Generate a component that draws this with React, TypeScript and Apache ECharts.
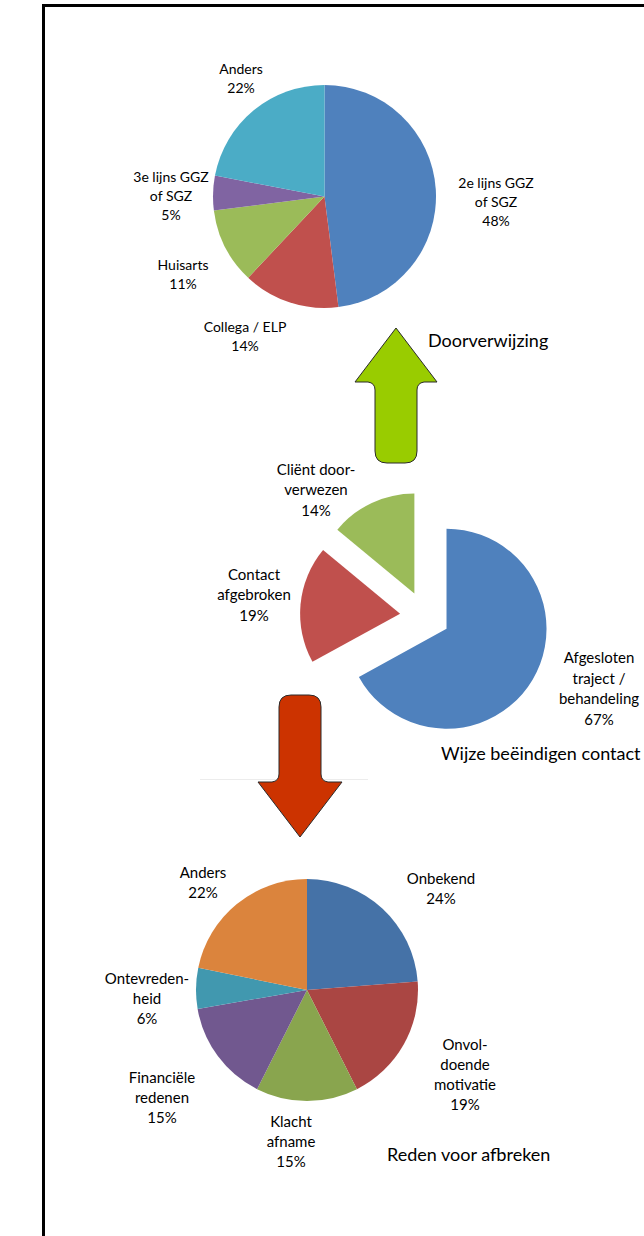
import React, { useEffect, useRef } from 'react';
import * as echarts from 'echarts';

// ---- Data ----
const referralCategories = ['2e lijns GGZ\nof SGZ', 'Collega / ELP', 'Huisarts', '3e lijns GGZ\nof SGZ', 'Anders'];
const referralValues = [48, 14, 11, 5, 22];
const referralColors = ['#4F81BD', '#C0504D', '#9BBB59', '#8064A2', '#4BACC6'];

const endCategories = ['Afgesloten\ntraject /\nbehandeling', 'Contact\nafgebroken', 'Cliënt door-\nverwezen'];
const endValues = [67, 19, 14];
const endColors = ['#4F81BD', '#C0504D', '#9BBB59'];

const reasonCategories = ['Onbekend', 'Onvol-\ndoende\nmotivatie', 'Klacht\nafname', 'Financiële\nredenen', 'Ontevreden-\nheid', 'Anders'];
const reasonValues = [24, 19, 15, 15, 6, 22];
const reasonColors = ['#4572A7', '#AA4643', '#89A54E', '#71588F', '#4198AF', '#DB843D'];

const chartTitles = ['Doorverwijzing', 'Wijze beëindigen contact', 'Reden voor afbreken'];

// ---- Layout (label anchor points, manually placed like in the original) ----
const referralLabelPos = [[496, 201], [245, 336], [183, 274], [171, 195], [241, 78]];
const endLabelPos = [[599, 688], [254, 594], [316, 489]];
const reasonLabelPos = [[441, 888], [465, 1074], [291, 1141], [162, 1097], [147, 998], [203, 882]];

const ARROW_UP = 'M0,0 L41,54 L28,54 Q21,55 21,62 L21,123 Q21,135 9,135 L-9,135 Q-21,135 -21,123 L-21,62 Q-21,55 -28,54 L-41,54 Z';
const ARROW_DOWN = 'M0,0 L-42,-55 L-28,-55 Q-21,-56 -21,-63 L-21,-130 Q-21,-142 -9,-142 L9,-142 Q21,-142 21,-130 L21,-63 Q21,-56 28,-55 L42,-55 Z';

let registered = false;
function registerShapes() {
  if (registered) return;
  echarts.graphic.registerShape('arrowUp', echarts.graphic.extendPath(ARROW_UP, {}));
  echarts.graphic.registerShape('arrowDown', echarts.graphic.extendPath(ARROW_DOWN, {}));
  registered = true;
}

function baseSeries(pos: number[][], center: number[], radius: number, fontSize: number, lineHeight: number) {
  return {
    type: 'pie',
    center,
    radius,
    startAngle: 90,
    clockwise: true,
    silent: true,
    avoidLabelOverlap: false,
    selectedMode: false,
    emphasis: { disabled: true },
    itemStyle: { borderWidth: 0 },
    label: {
      show: true,
      position: 'outside',
      formatter: (p: any) => `${p.name}\n${p.value}%`,
      fontFamily: 'Lato',
      fontSize,
      lineHeight,
      color: '#000',
    },
    labelLine: { show: false },
    labelLayout: (params: any) => {
      const p = pos[params.dataIndex];
      return { x: p[0], y: p[1], align: 'center', verticalAlign: 'middle' };
    },
  };
}

function pieSeries(
  cats: string[], vals: number[], colors: string[], pos: number[][],
  center: number[], radius: number, fontSize: number, lineHeight: number
) {
  return {
    ...baseSeries(pos, center, radius, fontSize, lineHeight),
    data: cats.map((name, i) => ({ name, value: vals[i], itemStyle: { color: colors[i] } })),
  };
}

// Exploded pie: each slice drawn by its own series, shifted along its mid-angle.
function explodedSeries(
  cats: string[], vals: number[], colors: string[], pos: number[][],
  center: number[], radius: number, fontSize: number, lineHeight: number, explode: number
) {
  const total = vals.reduce((a, b) => a + b, 0);
  let cum = 0;
  return vals.map((v, k) => {
    const mid = ((cum + v / 2) / total) * Math.PI * 2;
    cum += v;
    const c = [center[0] + explode * Math.sin(mid), center[1] - explode * Math.cos(mid)];
    return {
      ...baseSeries(pos, c, radius, fontSize, lineHeight),
      data: cats.map((name, i) => ({
        name,
        value: vals[i],
        itemStyle: { color: i === k ? colors[i] : 'rgba(0,0,0,0)' },
        label: { show: i === k },
      })),
    };
  });
}

export default function App() {
  const ref = useRef<HTMLDivElement>(null);
  useEffect(() => {
    if (!ref.current) return;
    registerShapes();
    const chart = echarts.init(ref.current, undefined, { renderer: 'svg' });
    const titleStyle = { fontFamily: 'Lato', fontSize: 18, fill: '#000', verticalAlign: 'middle' };
    chart.setOption({
      animation: false,
      backgroundColor: '#fff',
      graphic: [
        {
          type: 'rect', shape: { x: 43.5, y: 5.5, width: 800, height: 1400 },
          style: { fill: 'none', stroke: '#000', lineWidth: 3 }, z: 0,
        },
        {
          type: 'line', shape: { x1: 200, y1: 779.5, x2: 368, y2: 779.5 },
          style: { stroke: '#ececec', lineWidth: 1 }, z: 0,
        },
        {
          type: 'arrowUp', x: 396, y: 328,
          style: { fill: '#99CC00', stroke: '#2b2b2b', lineWidth: 1 }, z: 5,
        },
        {
          type: 'arrowDown', x: 300, y: 837,
          style: { fill: '#CC3300', stroke: '#2b2b2b', lineWidth: 1 }, z: 5,
        },
        { type: 'text', x: 428, y: 340, style: { ...titleStyle, text: chartTitles[0] } },
        { type: 'text', x: 441, y: 753, style: { ...titleStyle, text: chartTitles[1] } },
        { type: 'text', x: 387, y: 1154, style: { ...titleStyle, text: chartTitles[2] } },
      ],
      series: [
        pieSeries(referralCategories, referralValues, referralColors, referralLabelPos, [324.5, 196.5], 111.5, 14, 19),
        ...explodedSeries(endCategories, endValues, endColors, endLabelPos, [425, 616], 100, 15, 20.5, 25),
        pieSeries(reasonCategories, reasonValues, reasonColors, reasonLabelPos, [307, 990], 111, 15, 20),
      ],
    });
    return () => chart.dispose();
  }, []);
  return (
    <div
      ref={ref}
      style={{ position: 'absolute', left: 0, top: 0, width: 644, height: 1236, background: '#fff' }}
    />
  );
}
